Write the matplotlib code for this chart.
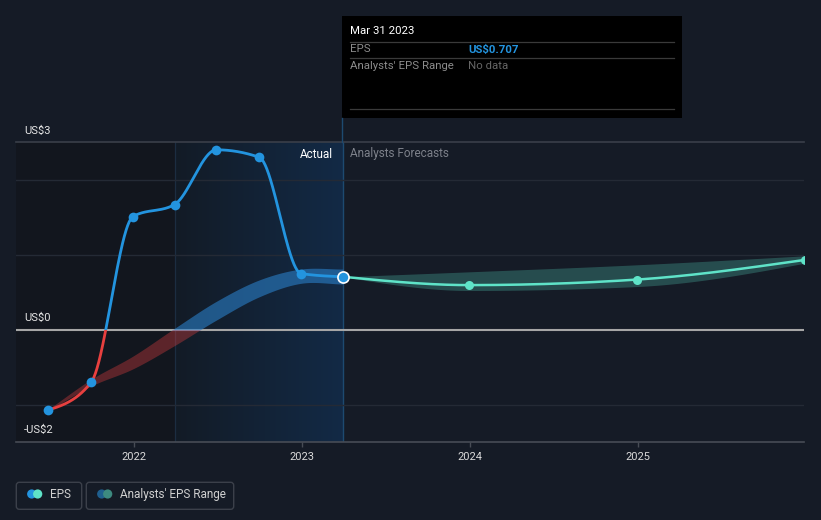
import numpy as np
import matplotlib
matplotlib.use('Agg')
import matplotlib.pyplot as plt
from matplotlib.patches import Rectangle, FancyBboxPatch, Circle
from matplotlib.colors import LinearSegmentedColormap

plt.rcParams['font.family'] = ['Roboto', 'DejaVu Sans']

# ---------------- data ----------------
eps_x = [2021.493, 2021.748, 2021.997, 2022.244, 2022.493, 2022.748, 2022.997, 2023.247]
eps_y = [-1.07, -0.70, 1.51, 1.67, 2.40, 2.30, 0.75, 0.707]
past_lo = [-1.08, -0.75, -0.52, -0.21, 0.13, 0.44, 0.62, 0.61]
past_hi = [-1.06, -0.66, -0.35, 0.02, 0.38, 0.665, 0.81, 0.81]

fc_x = [2023.247, 2023.997, 2024.997, 2025.997]
fc_y = [0.707, 0.596, 0.670, 0.933]
fc_lo = [0.707, 0.524, 0.577, 0.890]
fc_hi = [0.707, 0.773, 0.867, 0.987]

year_ticks = [2022, 2023, 2024, 2025]
year_labels = ['2022', '2023', '2024', '2025']
y_labels = ['US$3', 'US$0', '-US$2']

# ---------------- helpers ----------------
def hermite(x, y, m, n):
    h = np.diff(x)
    xs = np.linspace(x[0], x[-1], n)
    idx = np.clip(np.searchsorted(x, xs) - 1, 0, len(x) - 2)
    t = (xs - x[idx]) / h[idx]
    h00 = 2*t**3 - 3*t**2 + 1; h10 = t**3 - 2*t**2 + t
    h01 = -2*t**3 + 3*t**2; h11 = t**3 - t**2
    ys = h00*y[idx] + h10*h[idx]*m[idx] + h01*y[idx+1] + h11*h[idx]*m[idx+1]
    return xs, ys

def monotone(x, y, n=400):
    x = np.asarray(x, float); y = np.asarray(y, float)
    h = np.diff(x); s = np.diff(y) / h
    m = np.zeros_like(y)
    for i in range(1, len(x) - 1):
        p = (s[i-1] * h[i] + s[i] * h[i-1]) / (h[i-1] + h[i])
        m[i] = (np.sign(s[i-1]) + np.sign(s[i])) * min(abs(s[i-1]), abs(s[i]), 0.5 * abs(p))
    m[0] = (3 * s[0] - m[1]) / 2 if len(x) > 2 else s[0]
    m[-1] = (3 * s[-1] - m[-2]) / 2 if len(x) > 2 else s[-1]
    return hermite(x, y, m, n)

def cardinal(x, y, n=400):
    x = np.asarray(x, float); y = np.asarray(y, float)
    s = np.diff(y) / np.diff(x)
    m = np.zeros_like(y)
    m[1:-1] = (y[2:] - y[:-2]) / (x[2:] - x[:-2])
    m[0] = s[0]; m[-1] = s[-1]
    return hermite(x, y, m, n)

BG = '#151b26'
W, H = 821, 520
L, R, T, B = 16.2, 804, 142.3, 442.3
XMIN, XMAX = 2021.302, 2025.989
YMIN, YMAX = -1.5, 2.5

fig = plt.figure(figsize=(W/100, H/100), dpi=100, facecolor=BG)
ax = fig.add_axes([L/W, 1 - B/H, (R - L)/W, (B - T)/H])
ax.set_facecolor(BG)

# background regions
ax.axvspan(XMIN, eps_x[3], color='#12161e', lw=0, zorder=0)
cm = LinearSegmentedColormap.from_list('g', ['#131b26', '#122a46'])
ax.imshow(np.linspace(0, 1, 256).reshape(1, -1), extent=[eps_x[3], eps_x[-1], YMIN, YMAX],
          aspect='auto', cmap=cm, zorder=0.5)
ax.axvline(eps_x[3], color='#1c2d41', lw=0.9, zorder=1)
ax.axvline(eps_x[-1], color='#1d4a70', lw=1.0, zorder=1)

# grid
for yv in [-1, 1, 2]:
    ax.axhline(yv, color='#242a35', lw=1, zorder=1)
ax.axhline(YMAX, color='#3a3f49', lw=1.2, zorder=1, clip_on=False)
ax.axhline(0, color='#a6a6a6', lw=1.5, zorder=2)

above = Rectangle((XMIN - 1, 0), 10, 10, transform=ax.transData)
below = Rectangle((XMIN - 1, -10), 10, 10, transform=ax.transData)

# past analysts band
bx, blo = cardinal(eps_x, past_lo)
_, bhi = cardinal(eps_x, past_hi)
c1 = ax.fill_between(bx, blo, bhi, color='#2a7fc8', alpha=0.6, lw=0, zorder=3)
c1.set_clip_path(above)
c2 = ax.fill_between(bx, blo, bhi, color='#e84141', alpha=0.35, lw=0, zorder=3)
c2.set_clip_path(below)

# forecast band
fx_, flo = monotone(fc_x, fc_lo)
_, fhi = monotone(fc_x, fc_hi)
ax.fill_between(fx_, flo, fhi, color='#3b8a80', alpha=0.45, lw=0, zorder=3)

# EPS line
ex, ey = monotone(eps_x, eps_y, 800)
l1, = ax.plot(ex, ey, color='#2394df', lw=2.0, zorder=4, solid_capstyle='round')
l1.set_clip_path(above)
l2, = ax.plot(ex, ey, color='#e8403f', lw=2.0, zorder=4, solid_capstyle='round')
l2.set_clip_path(below)
ax.plot(eps_x[:-1], eps_y[:-1], 'o', color='#2394df', ms=7, mec='none', zorder=5)

# forecast line
fxs, fys = monotone(fc_x, fc_y)
ax.plot(fxs, fys, color='#5fe3c8', lw=1.8, zorder=4)
ax.plot(fc_x[1:], fc_y[1:], 'o', color='#5fe3c8', ms=6.5, mec='none', zorder=5)
ax.plot([eps_x[-1]], [eps_y[-1]], 'o', color='#2394df', ms=8, mec='white', mew=1.2, zorder=6)

ax.set_xlim(XMIN, XMAX)
ax.set_ylim(YMIN, YMAX)
for s in ['top', 'left', 'right']:
    ax.spines[s].set_visible(False)
ax.spines['bottom'].set_color('#474c55')
ax.spines['bottom'].set_linewidth(1.2)
ax.set_yticks([])
ax.set_xticks(year_ticks)
ax.set_xticklabels(year_labels)
ax.tick_params(axis='x', colors='#474c55', length=3.5, width=1, pad=3.5, labelsize=8, labelcolor='#d9d9d9')

# ---------------- overlay in pixel coordinates ----------------
ov = fig.add_axes([0, 0, 1, 1], facecolor='none')
ov.set_xlim(0, W); ov.set_ylim(H, 0); ov.axis('off')

for lab, yy in zip(y_labels, [130.5, 318.3, 430]):
    ov.text(24, yy, lab, color='#e6e6e6', fontsize=8, va='center', ha='left')

ov.text(333, 154, 'Actual', color='#ffffff', fontsize=8.5, ha='right', va='center')
ov.text(350, 154, 'Analysts Forecasts', color='#7d818a', fontsize=8.5, ha='left', va='center')

# tooltip
ov.plot([342, 342], [117.7, 142.3], color='#1d4a70', lw=1.0)
ov.add_patch(Rectangle((342, 16), 340, 101.7, color='#000000', lw=0))
ov.text(350, 31, 'Mar 31 2023', color='#ffffff', fontsize=8.2, va='center')
for yy in [41.7, 58.3, 109]:
    ov.plot([350, 674], [yy, yy], color='#3a3a3a', lw=0.9)
ov.text(350, 49.5, 'EPS', color='#8c8c8c', fontsize=8.2, va='center')
ov.text(468, 49.5, 'US$0.707', color='#2394df', fontsize=8.2, va='center', fontweight='bold')
ov.text(350, 66, "Analysts' EPS Range", color='#8c8c8c', fontsize=8.2, va='center')
ov.text(468, 66, 'No data', color='#666666', fontsize=8.2, va='center')

# legend
ov.add_patch(FancyBboxPatch((16.3, 482.3), 65.4, 27, boxstyle='round,pad=0,rounding_size=3',
                            fc=BG, ec='#3b404a', lw=1))
ov.add_patch(Circle((31.7, 494), 4.6, color='#2394df', lw=0))
ov.add_patch(Circle((37.7, 494), 4.6, color='#5fe3c8', lw=0))
ov.text(50, 494.5, 'EPS', color='#d0d0d0', fontsize=8.5, va='center')
ov.add_patch(FancyBboxPatch((86.3, 482.3), 147.4, 27, boxstyle='round,pad=0,rounding_size=3',
                            fc=BG, ec='#3b404a', lw=1))
ov.add_patch(Circle((101.7, 494), 4.6, color='#1f5f8e', lw=0))
ov.add_patch(Circle((107.7, 494), 4.6, color='#3d8a80', lw=0))
ov.text(120, 494.5, "Analysts' EPS Range", color='#d0d0d0', fontsize=8.5, va='center')

fig.savefig('out.png', dpi=100, facecolor=BG)
